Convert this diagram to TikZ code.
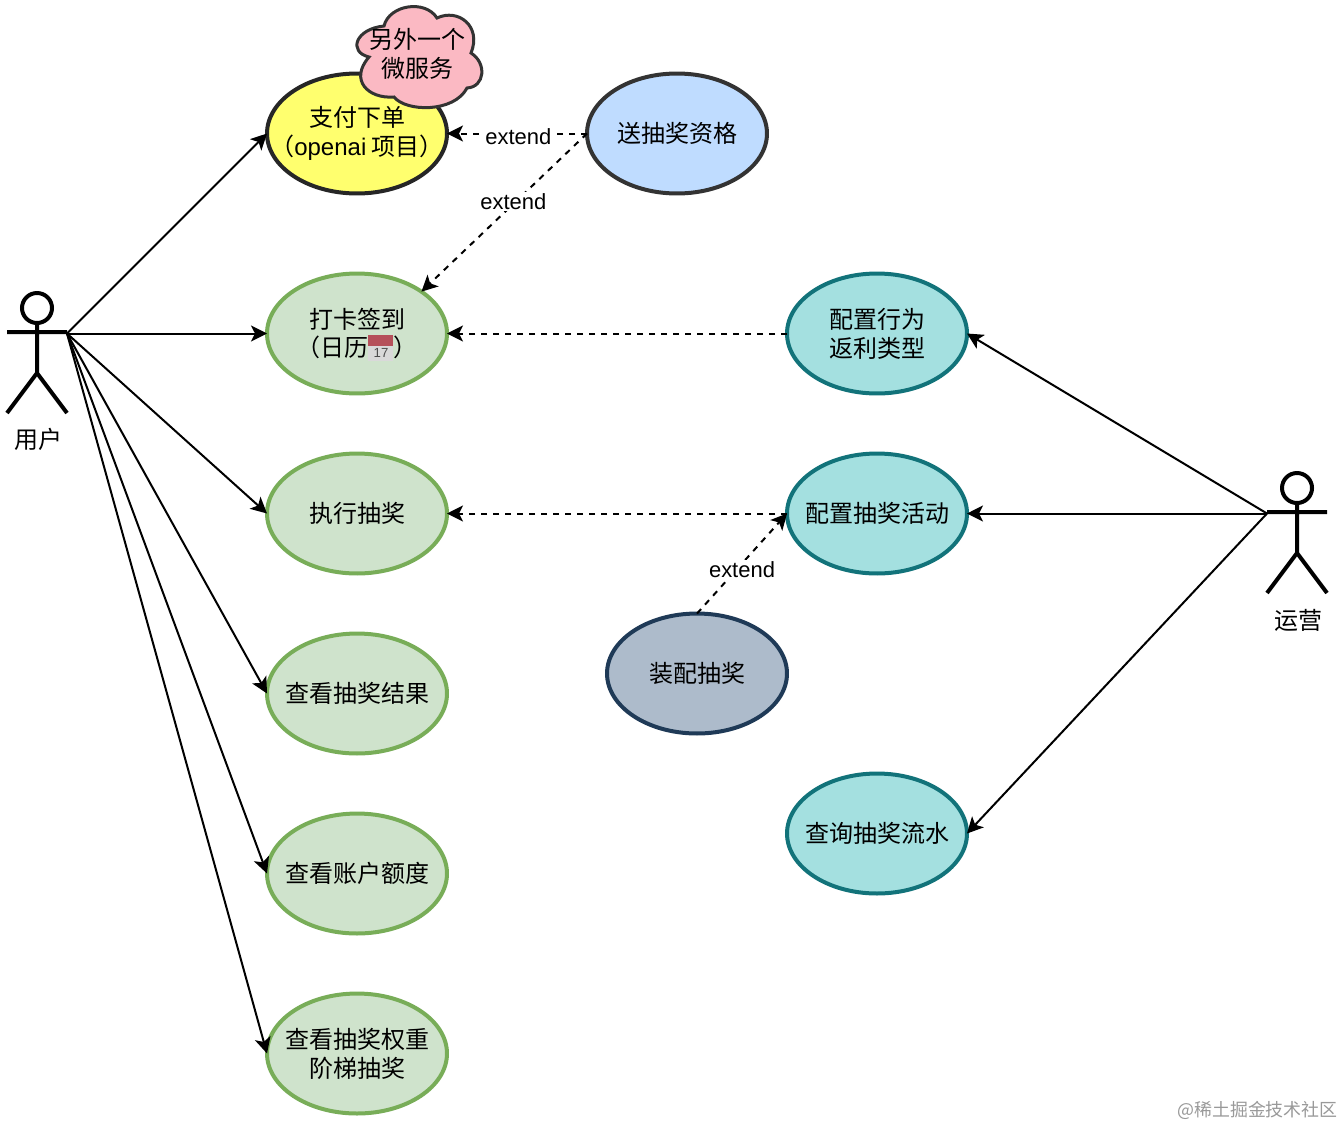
\documentclass[tikz,border=0pt]{standalone}
\usepackage{fontspec}
\setmainfont{Liberation Sans}
\newfontfamily\cjk{Noto Sans CJK SC}
\usetikzlibrary{arrows.meta,shapes.geometric}
\definecolor{vert_fond}{HTML}{CFE3CC}
\definecolor{vert_bord}{HTML}{78AD58}
\definecolor{bleu_fond}{HTML}{A4E0E0}
\definecolor{bleu_bord}{HTML}{12737A}
\definecolor{jaune_fond}{HTML}{FFFF6E}
\definecolor{ciel_fond}{HTML}{BFDCFF}
\definecolor{gris_fond}{HTML}{ADBBCB}
\definecolor{gris_bord}{HTML}{1F3A57}
\definecolor{rose_fond}{HTML}{FBB9C3}
\definecolor{agenda}{HTML}{B5505A}
\begin{document}
\begin{tikzpicture}[x=0.02cm,y=-0.02cm]
		\tikzstyle{cas}=[ellipse,minimum width=3.6cm,minimum height=2.4cm,inner sep=-0.6cm,outer sep=0pt,line width=0.08cm,align=center,font=\cjk\fontsize{13.66}{16.5}\selectfont]
		\tikzstyle{cas_vert}=[cas,draw=vert_bord,fill=vert_fond]
		\tikzstyle{cas_bleu}=[cas,draw=bleu_bord,fill=bleu_fond]
		\tikzstyle{acteur}=[line width=0.08cm]
		\tikzstyle{tete}=[circle,draw,line width=0.08cm,minimum size=0.6cm,inner sep=0pt,outer sep=0pt]
		\tikzstyle{nom}=[font=\cjk\fontsize{13.66}{16.5}\selectfont]
		\tikzstyle{fleche}=[-{Stealth[length=0.32cm,width=0.32cm,inset=0.08cm]},line width=0.04cm]
		\tikzstyle{pointille}=[fleche,dash pattern=on 0.12cm off 0.12cm]
		\tikzstyle{etiquette}=[fill=white,inner sep=1pt,font=\fontsize{12.5}{15}\selectfont]
		\useasboundingbox (0,0) rectangle (1344,1126);
		\fill[white] (0,0) rectangle (1344,1126);
		% gauche
		\node[cas,draw=black!85,fill=jaune_fond] (paiement) at (357,133.5) {支付下单\\（{\normalfont openai} 项目）};
		\node[cas_vert] (pointage) at (357,333.5) {打卡签到\\（日历\hspace{0.5cm}）};
		\node[cas_vert] (tirage) at (357,513.5) {执行抽奖};
		\node[cas_vert] (resultat) at (357,693.5) {查看抽奖结果};
		\node[cas_vert] (compte) at (357,873.5) {查看账户额度};
		\node[cas_vert] (poids) at (357,1053.5) {查看抽奖权重\\阶梯抽奖};
		% nuage
		\draw[draw=black!80,fill=rose_fond,line width=0.06cm] (369,57) .. controls (348,52) and (355,29) .. (384,26)
			.. controls (389,5) and (425,-1) .. (437,18)
			.. controls (458,8) and (482,26) .. (471,53)
			.. controls (487,63) and (485,87) .. (467,88)
			.. controls (454,113) and (406,112) .. (394,97)
			.. controls (368,99) and (349,80) .. (369,57) -- cycle;
		\node[align=center,inner sep=0pt,font=\cjk\fontsize{13.66}{16.5}\selectfont] (nuage) at (417,53.5) {另外一个\\微服务};
		% calendrier
		\fill[black!15] (368,346) rectangle (393,361);
		\fill[agenda] (368,335) rectangle (393,346);
		\node[inner sep=0pt,text=black!70,font=\fontsize{7.5}{9}\selectfont] (jour) at (381,352.5) {17};
		% milieu et droite
		\node[cas,draw=black!80,fill=ciel_fond] (eligible) at (677,133.5) {送抽奖资格};
		\node[cas_bleu] (retour) at (877,333.5) {配置行为\\返利类型};
		\node[cas_bleu] (activite) at (877,513.5) {配置抽奖活动};
		\node[cas_bleu] (flux) at (877,833.5) {查询抽奖流水};
		\node[cas,draw=gris_bord,fill=gris_fond] (montage) at (697,673.5) {装配抽奖};
		% acteur gauche
		\node[tete] (tete_user) at (37,308) {};
		\draw[acteur] (tete_user.south) -- (37,373) -- (7,413) (37,373) -- (67,413) (7,332) -- (67,332);
		\node[nom] (nom_user) at (38,439.5) {用户};
		\coordinate (user) at (67,333.5);
		% acteur droite
		\node[tete] (tete_ops) at (1297,488) {};
		\draw[acteur] (tete_ops.south) -- (1297,553) -- (1267,593) (1297,553) -- (1327,593) (1267,512) -- (1327,512);
		\node[nom] (nom_ops) at (1298,620) {运营};
		\coordinate (ops) at (1267,513.5);
		% liens
		\draw[fleche] (user) -- (paiement.west);
		\draw[fleche] (user) -- (pointage.west);
		\draw[fleche] (user) -- (tirage.west);
		\draw[fleche] (user) -- (resultat.west);
		\draw[fleche] (user) -- (compte.west);
		\draw[fleche] (user) -- (poids.west);
		\draw[fleche] (ops) -- (retour.east);
		\draw[fleche] (ops) -- (activite.east);
		\draw[fleche] (ops) -- (flux.east);
		\draw[pointille] (eligible.west) -- node[etiquette,pos=0.49,yshift=-0.07cm] (ext_a) {extend} (paiement.east);
		\draw[pointille] (eligible.west) -- node[etiquette,pos=0.445,yshift=0.05cm] (ext_b) {extend} (pointage.33);
		\draw[pointille] (retour.west) -- (pointage.east);
		\draw[pointille] (activite.west) -- (tirage.east);
		\draw[pointille] (montage.north) -- node[etiquette,yshift=-0.13cm] (ext_c) {extend} (activite.west);
		% filigrane
		\node[anchor=east,inner sep=0pt,text=black!40,font=\cjk\fontsize{10.2}{12}\selectfont] (filigrane) at (1338,1110.5) {@稀土掘金技术社区};
	\end{tikzpicture}
\end{document}
